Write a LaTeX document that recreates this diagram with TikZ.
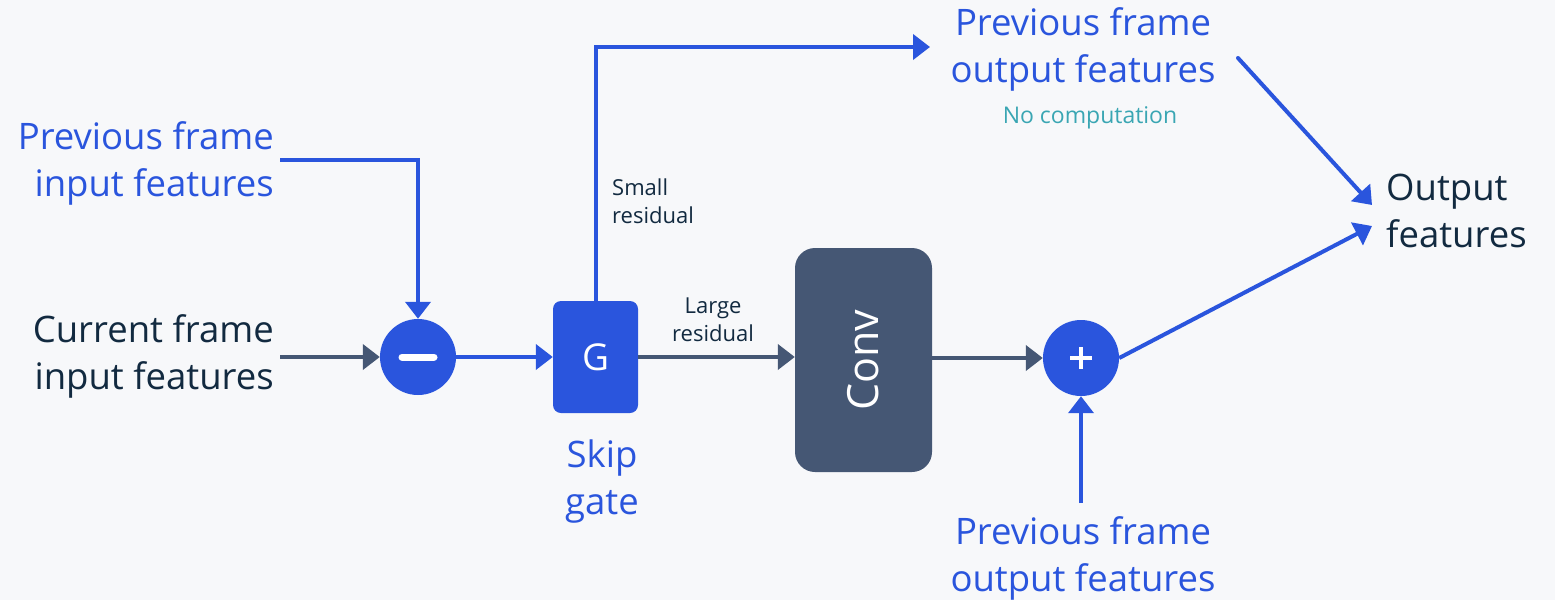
\documentclass[tikz,border=0pt]{standalone}
\usepackage{fontspec}
\setmainfont{Open Sans}
\usetikzlibrary{arrows.meta}
\definecolor{bg}{HTML}{F7F8FA}
\definecolor{blu}{HTML}{2A55DD}
\definecolor{slate}{HTML}{455774}
\definecolor{ink}{HTML}{122A40}
\definecolor{teal}{HTML}{3AA6B3}
\tikzset{
  big/.style={font=\fontsize{36.5}{47}\selectfont, inner sep=0pt},
  small/.style={font=\fontsize{22}{28}\selectfont, inner sep=0pt, text=ink},
  bluarrow/.style={draw=blu, line width=4pt, -{Triangle[length=17pt,width=25pt]}},
  darkarrow/.style={draw=slate, line width=4pt, -{Triangle[length=17pt,width=25pt]}},
  op/.style={circle, fill=blu, minimum size=76pt, inner sep=0pt, text=white},
}
\begin{document}
\begin{tikzpicture}[x=1pt, y=-1pt]
  \fill[bg] (0,0) rectangle (1555,600);
  \useasboundingbox (0,0) rectangle (1555,600);

  % operators and blocks
  \node[op] (minus) at (418,357) {};
  \draw[white, line width=7pt, line cap=round] ([xshift=-16pt]minus.center) -- ([xshift=16pt]minus.center);
  \node[fill=blu, rounded corners=8pt, minimum width=85pt, minimum height=112pt, inner sep=0pt,
        text=white, font=\fontsize{37}{37}\selectfont] (gate) at (595.5,357) {G};
  \node[fill=slate, rounded corners=20pt, minimum width=137pt, minimum height=224pt, inner sep=0pt] (conv) at (863.5,360) {};
  \node[text=white, rotate=90, font=\fontsize{43}{43}\selectfont] (convlbl) at (conv.center) {Conv};
  \node[op] (plus) at (1081,358) {};
  \draw[white, line width=3.5pt] ([xshift=-11pt]plus.center) -- ([xshift=11pt]plus.center)
        ([yshift=-11pt]plus.center) -- ([yshift=11pt]plus.center);

  % text nodes
  \node[big, text=blu, align=right, anchor=east] (pin) at (274,163) {Previous frame\\input features};
  \node[big, text=ink, align=right, anchor=east] (cin) at (274,356) {Current frame\\input features};
  \node[big, text=blu, align=center] (skip) at (602,482) {Skip\\gate};
  \node[small, align=left, anchor=west] (smallres) at (612,201) {Small\\residual};
  \node[small, align=center] (largeres) at (713,320) {Large\\residual};
  \node[big, text=blu, align=center] (ptop) at (1083,49) {Previous frame\\output features};
  \node[font=\fontsize{23}{23}\selectfont, text=teal, inner sep=0pt] (nocomp) at (1090,118) {No computation};
  \node[big, text=ink, align=left, anchor=west] (out) at (1386,211) {Output\\features};
  \node[big, text=blu, align=center] (pbot) at (1083,558) {Previous frame\\output features};

  % connector end points
  \coordinate (pinR) at (280,160);
  \coordinate (cinR) at (280,357);
  \coordinate (ptopL) at (930,47);
  \coordinate (ptopR) at (1238,58);
  \coordinate (pbotT) at (1081,503);
  \coordinate (outA) at (1372,205);
  \coordinate (outB) at (1372,226);

  % connectors
  \draw[darkarrow] (cinR) -- (minus.west);
  \draw[bluarrow] (pinR) -| (minus.north);
  \draw[bluarrow] (minus.east) -- (gate.west);
  \draw[bluarrow] (gate.north) |- (ptopL);
  \draw[darkarrow] (gate.east) -- (gate.east -| conv.west);
  \draw[darkarrow] (conv.east |- plus.west) -- (plus.west);
  \draw[bluarrow] (pbotT) -- (plus.south);
  \draw[bluarrow, line cap=round] (ptopR) -- (outA);
  \draw[bluarrow] (plus.east) -- (outB);
\end{tikzpicture}
\end{document}
